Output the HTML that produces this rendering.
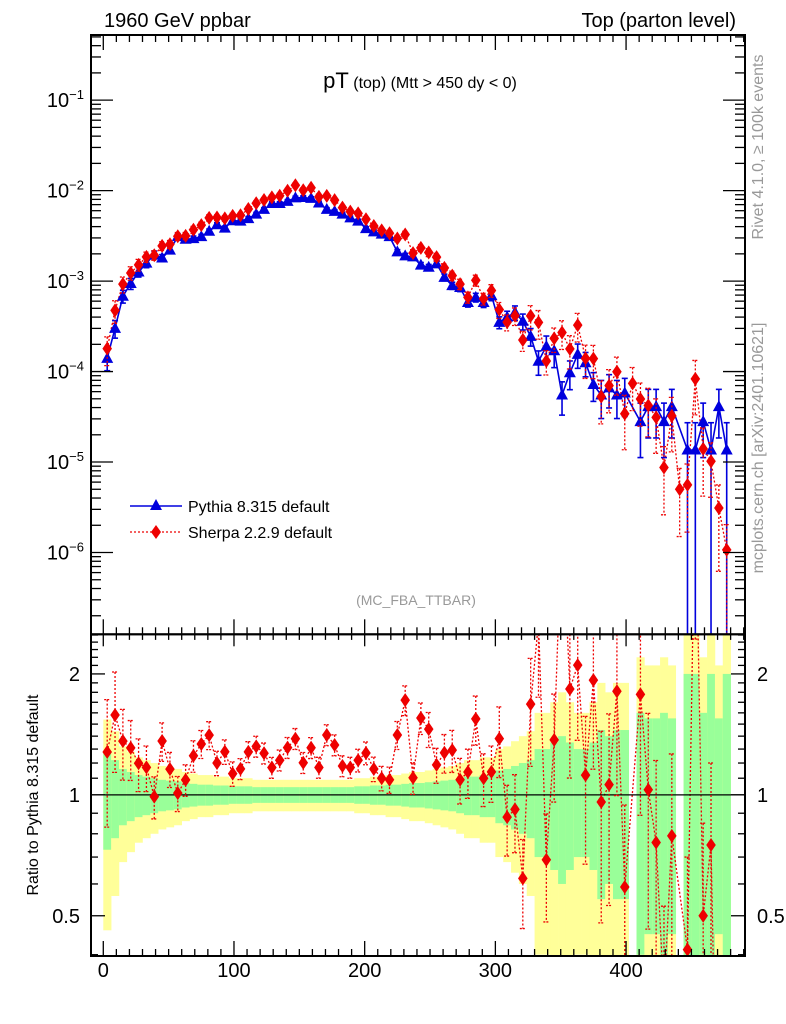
<!DOCTYPE html>
<html><head><meta charset="utf-8">
<style>
html,body{margin:0;padding:0;background:#fff;overflow:hidden;width:786px;height:1024px;}
svg{display:block;font-family:"Liberation Sans",Arial,sans-serif;}
</style></head>
<body>
<svg id="chart" width="786" height="1024" viewBox="0 0 786 1024" xmlns="http://www.w3.org/2000/svg">
<defs>
<clipPath id="clipMain"><rect x="91" y="35" width="654" height="599.3"/></clipPath>
<clipPath id="clipRatio"><rect x="91" y="634.3" width="654" height="321.7"/></clipPath>
</defs>
<rect width="786" height="1024" fill="#fff"/>
<g id="ratioBands" clip-path="url(#clipRatio)"></g>
<g id="mainMarks" clip-path="url(#clipMain)"></g>
<g id="ratioMarks" clip-path="url(#clipRatio)"></g>
<g id="axes"></g>

<text x="104" y="27" font-size="20">1960 GeV ppbar</text>
<text x="736" y="27" font-size="20" text-anchor="end">Top (parton level)</text>
<text x="420" y="88" font-size="16" text-anchor="middle"><tspan font-size="22">pT</tspan> (top)  (Mtt &gt; 450 dy &lt; 0)</text>
<text x="416" y="605" font-size="14" fill="#999" text-anchor="middle">(MC_FBA_TTBAR)</text>
<text transform="translate(763,147) rotate(-90)" font-size="16" fill="#999" text-anchor="middle">Rivet 4.1.0, ≥ 100k events</text>
<text transform="translate(763,448) rotate(-90)" font-size="16" fill="#999" text-anchor="middle">mcplots.cern.ch [arXiv:2401.10621]</text>
<text transform="translate(38,795) rotate(-90)" font-size="16" text-anchor="middle">Ratio to Pythia 8.315 default</text>

<g>
  <g>
    <line x1="130" y1="506" x2="182" y2="506" stroke="#0000dd" stroke-width="1.5"/>
    <polygon points="156,499 162,510 150,510" fill="#0000dd"/>
    <text x="188" y="512" font-size="16">Pythia 8.315 default</text>
  </g>
  <g>
    <line x1="130" y1="532" x2="182" y2="532" stroke="#ee0000" stroke-width="1.3" stroke-dasharray="2,2"/>
    <polygon points="156,525 161,532 156,539 151,532" fill="#ee0000"/>
    <text x="188" y="538" font-size="16">Sherpa 2.2.9 default</text>
  </g>
</g>
</svg>
<script>
const binEdges = [0,6,12,18,24,30,36,42,48,54,60,66,72,78,84,90,96,102,108,114,120,126,132,138,144,150,156,162,168,174,180,186,192,198,204,210,216,222,228,234,240,246,252,258,264,270,276,282,288,294,300,306,312,318,324,330,336,342,348,354,360,366,372,378,384,390,396,402,408,414,420,426,432,438,444,450,456,462,468,474,480];
const pythiaValues = [1.4e-4,3.0e-4,6.8e-4,9.4e-4,1.26e-3,1.58e-3,1.95e-3,1.8e-3,2.2e-3,3.1e-3,
2.9e-3,2.95e-3,3.1e-3,3.55e-3,4.2e-3,3.85e-3,4.65e-3,4.6e-3,4.9e-3,5.5e-3,
6.2e-3,7.2e-3,7.2e-3,7.6e-3,8.3e-3,8.4e-3,8.2e-3,7.3e-3,6.2e-3,5.9e-3,
5.5e-3,5.0e-3,4.6e-3,3.8e-3,3.5e-3,3.3e-3,3.1e-3,2.1e-3,1.9e-3,1.85e-3,
1.5e-3,1.42e-3,1.55e-3,1.1e-3,8.9e-4,8.5e-4,5.8e-4,6.6e-4,5.8e-4,6.9e-4,
3.5e-4,4.0e-4,4.5e-4,3.6e-4,2.45e-4,1.3e-4,1.9e-4,1.7e-4,5.5e-5,9.7e-5,
1.55e-4,1.25e-4,7.2e-5,5.5e-5,6.6e-5,5.5e-5,5.8e-5,0,2.8e-5,4.1e-5,
4.1e-5,2.8e-5,4.1e-5,0,1.36e-5,1.36e-5,2.8e-5,1.36e-5,4.1e-5,1.36e-5];
const sherpaValues = [1.79e-4,4.74e-4,9.25e-4,1.23e-3,1.51e-3,1.85e-3,1.93e-3,2.45e-3,2.55e-3,3.13e-3,
3.16e-3,3.69e-3,4.15e-3,5.0e-3,5.04e-3,4.93e-3,5.25e-3,5.34e-3,6.27e-3,7.26e-3,
7.87e-3,8.42e-3,8.78e-3,9.96e-3,1.145e-2,1.01e-2,1.074e-2,8.54e-3,8.74e-3,7.85e-3,
6.49e-3,5.85e-3,5.61e-3,4.83e-3,4.06e-3,3.63e-3,3.38e-3,2.96e-3,3.27e-3,2.04e-3,
2.33e-3,2.07e-3,1.84e-3,1.40e-3,1.15e-3,9.27e-4,6.61e-4,1.02e-3,6.38e-4,7.87e-4,
4.83e-4,3.52e-4,4.14e-4,2.23e-4,4.12e-4,3.5e-4,1.31e-4,2.33e-4,2.7e-4,1.78e-4,
3.26e-4,1.40e-4,1.39e-4,5.28e-5,7.0e-5,9.96e-5,3.42e-5,7.4e-5,4.98e-5,4.22e-5,
3.12e-5,8.7e-6,3.24e-5,5.0e-6,5.6e-6,8.3e-5,1.4e-5,1.02e-5,3.1e-6,1.07e-6];
const pythiaRelErr = [.27,.22,.16,.14,.12,.11,.10,.09,.085,.08,
.07,.065,.06,.06,.055,.055,.05,.05,.05,.045,
.045,.045,.045,.045,.045,.045,.045,.045,.045,.045,
.045,.045,.05,.05,.055,.055,.06,.06,.065,.07,
.07,.075,.08,.085,.09,.1,.11,.11,.12,.12,
.15,.16,.18,.2,.22,.3,.3,.35,.4,.35,
.3,.3,.35,.45,.4,.45,.45,0,.6,.55,
.55,.6,.55,0,1,1,.6,1,.55,1];
const sherpaRelErr = [.35,.28,.2,.17,.15,.13,.12,.11,.1,.1,
.09,.09,.08,.08,.07,.07,.07,.06,.06,.06,
.06,.06,.06,.06,.06,.06,.06,.06,.06,.06,.06,.06,
.065,.065,.07,.07,.075,.08,.085,.09,
.09,.1,.1,.11,.12,.13,.14,.14,.15,.16,
.2,.2,.22,.25,.3,.35,.3,.3,.35,.4,
.35,.4,.4,.5,.5,.45,.6,.5,.5,.55,
.6,.7,.6,.7,.7,.6,.7,.6,.8,.9];
const xTickLabels = [0,100,200,300,400];
const mainDecades = [-1,-2,-3,-4,-5,-6];
const ratioTickLabels = ["0.5","1","2"];

const NS = "http://www.w3.org/2000/svg";
const X0 = 91, X1 = 745, XMIN = -9.4, XMAX = 491;
const MT = 35, MB = 634.3, LMAX = -0.28, LMIN = -6.904;
const RT = 634.3, RB = 956, RLMAX = Math.log10(2.51), RLMIN = Math.log10(0.397);
function xs(v){ return X0 + (v - XMIN) / (XMAX - XMIN) * (X1 - X0); }
function ys(v){ const l = v > 0 ? Math.log10(v) : LMIN - 2; return MT + (LMAX - l) / (LMAX - LMIN) * (MB - MT); }
function yr(v){ const l = v > 0 ? Math.log10(v) : RLMIN - 2; return RT + (RLMAX - l) / (RLMAX - RLMIN) * (RB - RT); }
function mk(tag, attrs, parent){ const e = document.createElementNS(NS, tag); for (const k in attrs) e.setAttribute(k, attrs[k]); parent.appendChild(e); return e; }

const mainG = document.getElementById('mainMarks');
const ratioG = document.getElementById('ratioMarks');
const bandG = document.getElementById('ratioBands');
const axG = document.getElementById('axes');
const BLUE = "#0000dd", RED = "#ee0000";
const n = pythiaValues.length;
const centers = [];
for (let i = 0; i < n; i++) centers.push((binEdges[i] + binEdges[i+1]) / 2);

for (let i = 0; i < n; i++) {
  const e = pythiaRelErr[i];
  if (!(pythiaValues[i] > 0)) continue;
  const xa = xs(binEdges[i]), xb = xs(binEdges[i+1]);
  const yTopY = yr(1 + 2*e), yBotY = yr(Math.max(1 - 2*e, 1e-3));
  const ry = mk('rect', {x: xa, y: yTopY, width: xb - xa + 0.3, height: yBotY - yTopY, fill: '#ffff99'}, bandG);
  
  
  const gTop = yr(1 + e), gBot = yr(Math.max(1 - e, 1e-3));
  const rg = mk('rect', {x: xa, y: gTop, width: xb - xa + 0.3, height: gBot - gTop, fill: '#99ff99'}, bandG);
  
  
}

function polyline(vals, yfn, color, dash, g, name){
  let pts = [];
  for (let i = 0; i < n; i++) if (vals[i] > 0) pts.push(xs(centers[i]).toFixed(1) + ',' + yfn(vals[i]).toFixed(1));
  const p = mk('polyline', {points: pts.join(' '), fill: 'none', stroke: color, 'stroke-width': dash ? 1.3 : 1.6}, g);
  if (dash) p.setAttribute('stroke-dasharray', '2,2');
  
  
}
polyline(pythiaValues, ys, BLUE, false, mainG, 'pythia-line');
polyline(sherpaValues, ys, RED, true, mainG, 'sherpa-line');

function errbar(g, x, y1, y2, color, dash){
  const a = {stroke: color, 'stroke-width': dash ? 1.3 : 1.6};
  const l = mk('line', Object.assign({x1: x, x2: x, y1: y1, y2: y2}, a), g);
  const c1 = mk('line', Object.assign({x1: x - 3, x2: x + 3, y1: y1, y2: y1}, a), g);
  const c2 = mk('line', Object.assign({x1: x - 3, x2: x + 3, y1: y2, y2: y2}, a), g);
  if (dash) { l.setAttribute('stroke-dasharray', '2,2'); c1.setAttribute('stroke-dasharray', '2,1'); c2.setAttribute('stroke-dasharray', '2,1'); }
}
for (let i = 0; i < n; i++) {
  const x = xs(centers[i]);
  const p = pythiaValues[i];
  if (p > 0) {
    const e = pythiaRelErr[i];
    errbar(mainG, x, ys(p*(1+e)), ys(p*(1-e) > 0 ? p*(1-e) : 1e-9), BLUE, false);
    const y = ys(p);
    const t = mk('polygon', {points: `${x},${y-6.5} ${x+6},${y+4.5} ${x-6},${y+4.5}`, fill: BLUE}, mainG);
    
    
  }
}
for (let i = 0; i < n; i++) {
  const x = xs(centers[i]);
  const s = sherpaValues[i];
  if (s > 0) {
    const e = sherpaRelErr[i];
    errbar(mainG, x, ys(s*(1+e)), ys(s*(1-e) > 0 ? s*(1-e) : 1e-9), RED, true);
    const y = ys(s);
    const d = mk('polygon', {points: `${x},${y-7} ${x+4.8},${y} ${x},${y+7} ${x-4.8},${y}`, fill: RED}, mainG);
    
    
  }
}

const ratios = [];
for (let i = 0; i < n; i++) ratios.push(pythiaValues[i] > 0 ? sherpaValues[i] / pythiaValues[i] : 0);
polyline(ratios, yr, RED, true, ratioG, 'ratio-line');
mk('line', {x1: X0, x2: X1, y1: yr(1), y2: yr(1), stroke: '#000', 'stroke-width': 1.3}, ratioG);
for (let i = 0; i < n; i++) {
  const r = ratios[i];
  if (!(r > 0)) continue;
  const x = xs(centers[i]);
  const e = sherpaRelErr[i];
  errbar(ratioG, x, yr(r*(1+e)), yr(r*(1-e) > 0 ? r*(1-e) : 1e-9), RED, true);
  const y = yr(r);
  const d = mk('polygon', {points: `${x},${y-7} ${x+4.8},${y} ${x},${y+7} ${x-4.8},${y}`, fill: RED}, ratioG);
  
  
}

const fa = {fill: 'none', stroke: '#000', 'stroke-width': 2};
mk('rect', Object.assign({x: X0, y: MT, width: X1 - X0, height: MB - MT}, fa), axG);
mk('rect', Object.assign({x: X0, y: RT, width: X1 - X0, height: RB - RT}, fa), axG);
const ta = {stroke: '#000', 'stroke-width': 1.3};
function tk(x1, y1, x2, y2){ mk('line', Object.assign({x1, y1, x2, y2}, ta), axG); }
for (let v = -0; v <= 490; v += 10) {
  const x = xs(v); const major = v % 100 === 0; const L = major ? 15 : 7;
  tk(x, MT, x, MT + L); tk(x, MB, x, MB - L);
  tk(x, RT, x, RT + L*0.8); tk(x, RB, x, RB - L);
}
for (const v of xTickLabels) {
  const t = mk('text', {x: xs(v), y: 977, 'font-size': 20, 'text-anchor': 'middle'}, axG);
  t.textContent = v;
  
  
}
for (let d = -7; d <= -1; d++) {
  for (let m = 1; m <= 9; m++) {
    const v = m * Math.pow(10, d); const y = ys(v);
    if (y < MT - 0.5 || y > MB + 0.5) continue;
    const L = m === 1 ? 22 : 10;
    tk(X0, y, X0 + L, y); tk(X1, y, X1 - L, y);
  }
}
for (const d of mainDecades) {
  const y = ys(Math.pow(10, d));
  const t = mk('text', {x: 84, y: y + 7, 'font-size': 20, 'text-anchor': 'end'}, axG);
  
  
  const a = document.createElementNS(NS, 'tspan'); a.textContent = '10'; t.appendChild(a);
  const b = document.createElementNS(NS, 'tspan'); b.setAttribute('dy', '-8'); b.setAttribute('font-size', '13'); b.textContent = '−' + (-d); t.appendChild(b);
}
for (let k = 4; k <= 25; k++) {
  const v = k / 10; const y = yr(v);
  if (y < RT - 0.5 || y > RB + 0.5) continue;
  const L = (k === 5 || k === 10 || k === 20) ? 14 : 7;
  tk(X0, y, X0 + L, y); tk(X1, y, X1 - L, y);
}
for (const s of ratioTickLabels) {
  const y = yr(parseFloat(s)) + 7;
  const t1 = mk('text', {x: 80, y: y, 'font-size': 20, 'text-anchor': 'end'}, axG);
  t1.textContent = s;
  
  
  const t2 = mk('text', {x: 757, y: y, 'font-size': 20}, axG);
  t2.textContent = s;
  
  
}
</script>
</body></html>
